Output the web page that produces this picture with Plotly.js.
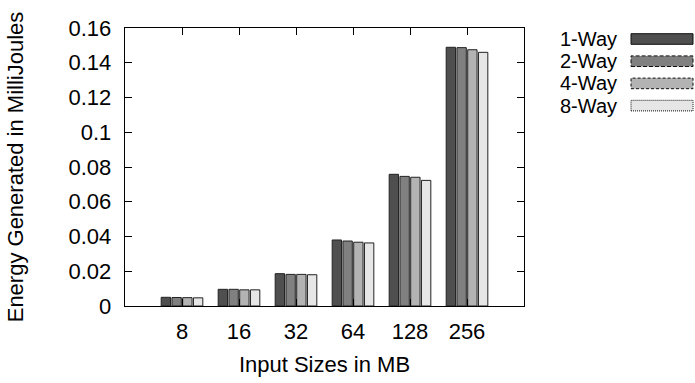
<!DOCTYPE html>
<html>
<head>
<meta charset="utf-8">
<script src="https://cdn.plot.ly/plotly-3.0.1.min.js"></script>
<style>html,body{margin:0;padding:0;background:#fff;}#chart{width:695px;height:383px;}</style>
</head>
<body>
<div id="chart"></div>
<script>
var categories = ["8", "16", "32", "64", "128", "256"];
var seriesNames = ["1-Way", "2-Way", "4-Way", "8-Way"];
var way1 = [0.0050, 0.0096, 0.0186, 0.0380, 0.0758, 0.1489];
var way2 = [0.0049, 0.0096, 0.0182, 0.0374, 0.0746, 0.1487];
var way4 = [0.0048, 0.0093, 0.0182, 0.0367, 0.0741, 0.1475];
var way8 = [0.0047, 0.0093, 0.0180, 0.0363, 0.0723, 0.1460];
var yTickVals = [0, 0.02, 0.04, 0.06, 0.08, 0.1, 0.12, 0.14, 0.16];
var yTickText = ["0", "0.02", "0.04", "0.06", "0.08", "0.1", "0.12", "0.14", "0.16"];

var fills = ["#4f4f4f", "#808080", "#b3b3b3", "#e6e6e6"];
var dashes = ["solid", "4px,2px", "3px,2px", "1px,1px"];
var values = [way1, way2, way4, way8];

var FONT = "Liberation Sans, Arial, Helvetica, sans-serif";
var FS = 22;
var M = {l: 125, r: 171, t: 28, b: 77};
var W = 695, H = 383;
var pw = W - M.l - M.r, ph = H - M.t - M.b;
function px2x(px) { return (px - M.l) / pw; }
function py2y(py) { return (H - M.b - py) / ph; }

var traces = values.map(function (v, i) {
  return {
    type: "bar",
    name: seriesNames[i],
    x: categories,
    y: v,
    marker: {color: fills[i], line: {color: "#222", width: 1}},
    showlegend: false,
    hoverinfo: "x+y+name"
  };
});

var shapes = [], annotations = [];
var rowY = [39, 61.2, 83.4, 105.6];
for (var i = 0; i < seriesNames.length; i++) {
  shapes.push({
    type: "rect", xref: "paper", yref: "paper",
    x0: px2x(631), x1: px2x(693),
    y0: py2y(rowY[i] + 5.3), y1: py2y(rowY[i] - 5.3),
    fillcolor: fills[i],
    line: {color: "#111", width: 1, dash: dashes[i]}
  });
  annotations.push({
    xref: "paper", yref: "paper",
    x: px2x(618), y: py2y(rowY[i]),
    xanchor: "right", yanchor: "middle",
    text: seriesNames[i], showarrow: false, borderpad: 0,
    font: {family: FONT, size: 20, color: "#000"}
  });
}

var layout = {
  width: W, height: H,
  margin: M,
  paper_bgcolor: "#fff", plot_bgcolor: "#fff",
  font: {family: FONT, size: FS, color: "#000"},
  barmode: "group",
  bargap: 0.245,
  bargroupgap: 0.13,
  xaxis: {
    type: "category",
    range: [-1, 6],
    showline: true, linecolor: "#000", linewidth: 1.3, mirror: "ticks",
    ticks: "inside", ticklen: 7, tickcolor: "#000",
    showgrid: false, zeroline: false,
    ticklabelstandoff: 5,
    tickfont: {family: FONT, size: FS, color: "#000"},
    title: {text: "Input Sizes in MB", font: {family: FONT, size: FS, color: "#000"}, standoff: 14}
  },
  yaxis: {
    range: [0, 0.16],
    tickvals: yTickVals, ticktext: yTickText,
    showline: true, linecolor: "#000", linewidth: 1.3, mirror: "ticks",
    ticks: "inside", ticklen: 7, tickcolor: "#000",
    showgrid: false, zeroline: false,
    ticklabelstandoff: 8,
    tickfont: {family: FONT, size: FS, color: "#000"},
    title: {text: "Energy Generated in MilliJoules", font: {family: FONT, size: FS, color: "#000"}, standoff: 38}
  },
  shapes: shapes,
  annotations: annotations
};

Plotly.newPlot("chart", traces, layout, {displayModeBar: false, staticPlot: true});
</script>
</body>
</html>
